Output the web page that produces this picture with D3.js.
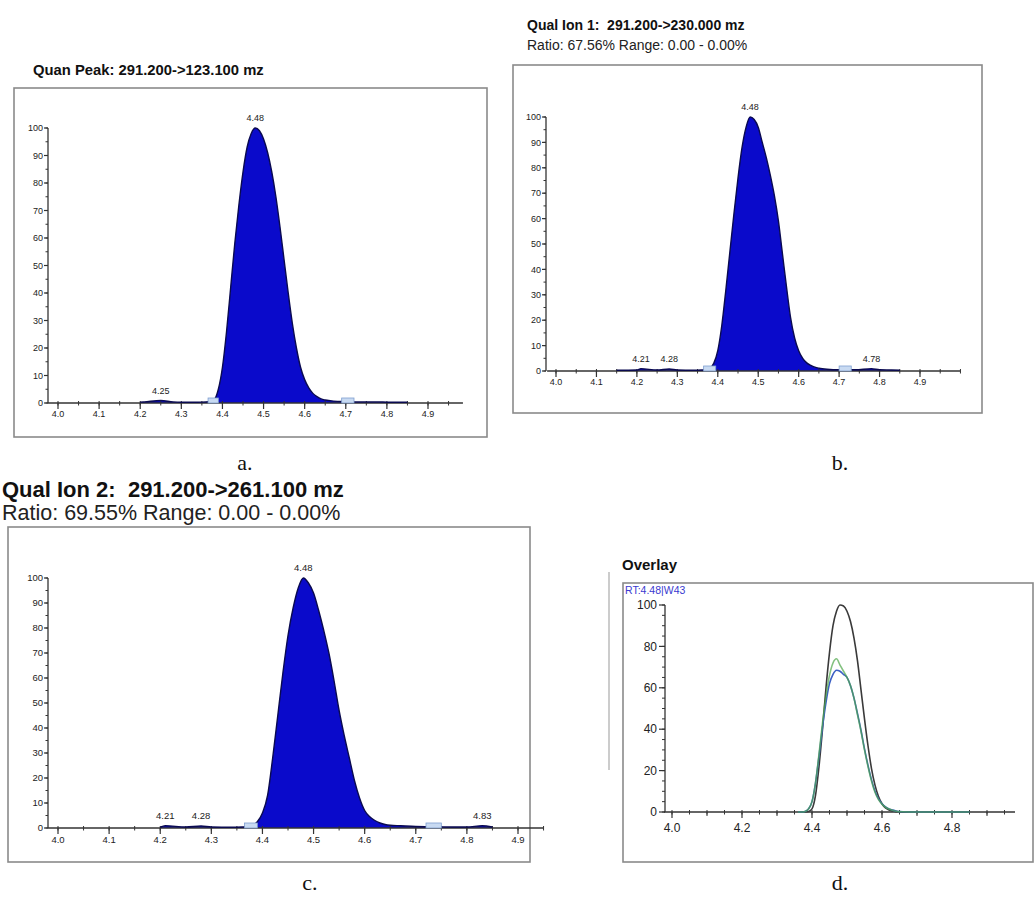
<!DOCTYPE html>
<html><head><meta charset="utf-8">
<script src="https://cdn.jsdelivr.net/npm/d3@7"></script>
<style>
body{margin:0;background:#fff}
svg{display:block}
text{font-family:"Liberation Sans",Arial,sans-serif;white-space:pre}
</style>
</head><body>
<svg id="chart" width="1034" height="912"></svg>
<script>
// ---------------- data ----------------
const rtGrid = [4.15,4.20,4.21,4.25,4.28,4.30,4.34,4.36,4.37,4.38,4.39,4.40,4.41,4.42,4.43,4.44,4.45,4.46,4.47,4.48,4.49,4.50,4.51,4.52,4.53,4.54,4.55,4.56,4.57,4.58,4.59,4.60,4.61,4.62,4.63,4.64,4.65,4.67,4.70,4.74,4.78,4.80,4.83,4.85];
const intensityA = [null,0.3,0.4,0.9,0.4,0.3,0.3,0.4,0.6,1.2,5,13,26,42,58,72,84,93,98,100,99,96,91,84,75,64,52,40,29,20,13,8.5,5.5,3.5,2.3,1.5,1.1,0.7,0.5,0.4,0.4,0.3,0.3,0.3];
const intensityB = [0.3,0.4,0.9,0.4,0.8,0.4,0.3,0.4,0.5,1,3,8,18,32,47,62,76,88,96,100,99,96,90,84,77,69,59,46,33,21,13,8,5,3.2,2.2,1.5,1.1,0.7,0.5,0.5,0.9,0.5,0.4,0.3];
const intensityC = [null,0.3,0.9,0.4,0.8,0.4,0.3,0.4,0.5,1,2.5,6,13,28,45,62,77,88,96,100,98,94,87,79,70,59,47,37,28,19,12,7,4.5,3,2,1.4,1.1,0.9,0.6,0.5,0.4,0.4,0.9,0.4];

const rtOverlay = [4.36,4.37,4.38,4.39,4.40,4.41,4.42,4.43,4.44,4.45,4.46,4.47,4.48,4.49,4.50,4.51,4.52,4.53,4.54,4.55,4.56,4.57,4.58,4.59,4.60,4.61,4.62,4.63,4.64,4.65,4.66,4.70,4.75,4.80,4.85];
const overlayBlack = [0,0,0,0.2,1.5,8,22,40,60,77,90,97,100,99.5,97,92,84,73,59,45,32,21,13,7.5,4,2,1,0.5,0.2,0.1,0,0,0,0,0];
const overlayBlue  = [0,0,0.3,1.5,5,14,27,41,53,62,66.5,68.5,68,66.5,65,61,55,47.5,39.5,30.5,22.5,15.5,10,6.3,4,2.5,1.5,0.9,0.5,0.2,0.1,0,0,0,0];
const overlayGreen = [0,0,0.3,1.5,5,14,28,43,56,66,72,74,71,68,65,61,55,47,39,30,22,15,9.5,6,3.8,2.3,1.4,0.8,0.4,0.2,0.1,0,0,0,0];

const xTicksABC = [4.0,4.1,4.2,4.3,4.4,4.5,4.6,4.7,4.8,4.9];
const xTicksD = [4.0,4.2,4.4,4.6,4.8];
const yTicksABC = [0,10,20,30,40,50,60,70,80,90,100];
const yTicksD = [0,20,40,60,80,100];

const peakLabelRtA = [4.48,4.25];
const peakLabelRtB = [4.48,4.21,4.28,4.78];
const peakLabelRtC = [4.48,4.21,4.28,4.83];

const markersA = [[4.365,4.39],[4.69,4.72]];
const markersB = [[4.365,4.395],[4.70,4.73]];
const markersC = [[4.365,4.39],[4.72,4.75]];

const titleA = "Quan Peak: 291.200->123.100 mz";
const titleB = "Qual Ion 1:  291.200->230.000 mz";
const ratioB = "Ratio: 67.56% Range: 0.00 - 0.00%";
const titleC = "Qual Ion 2:  291.200->261.100 mz";
const ratioC = "Ratio: 69.55% Range: 0.00 - 0.00%";
const titleD = "Overlay";
const rtLabelD = "RT:4.48|W43";
const panelLetters = ["a.","b.","c.","d."];

// ---------------- drawing ----------------
const svg = d3.select("#chart");
const fmt1 = d3.format(".1f");
const fmt2 = d3.format(".2f");

function drawBox(b){
  svg.append("rect").attr("x",b.x).attr("y",b.y).attr("width",b.w).attr("height",b.h)
    .attr("fill","#fff").attr("stroke","#8a8a8a").attr("stroke-width",1.6);
}

function drawYAxis(g, y, ax, ticks, minorStep, fs, majLen, minLen, gap){
  g.append("line").attr("x1",ax).attr("x2",ax).attr("y1",y(0)).attr("y2",y(100))
    .attr("stroke","#333").attr("stroke-width",1.3);
  const minors = d3.range(0,100.001,minorStep);
  g.selectAll(null).data(minors).join("line")
    .attr("x1",ax-minLen).attr("x2",ax).attr("y1",d=>y(d)).attr("y2",d=>y(d))
    .attr("stroke","#333").attr("stroke-width",1);
  g.selectAll(null).data(ticks).join("line")
    .attr("x1",ax-majLen).attr("x2",ax).attr("y1",d=>y(d)).attr("y2",d=>y(d))
    .attr("stroke","#333").attr("stroke-width",1.2);
  g.selectAll(null).data(ticks).join("text")
    .attr("x",ax-majLen-gap).attr("y",d=>y(d)).attr("dy","0.35em")
    .attr("text-anchor","end").attr("font-size",fs).attr("fill","#222").text(d=>d);
}

function drawXAxis(g, x, ay, ext, ticks, minorStep, fs, fmt, midTicks, lblOff){
  g.append("line").attr("x1",x(ext[0])).attr("x2",x(ext[1])).attr("y1",ay).attr("y2",ay)
    .attr("stroke","#333").attr("stroke-width",1.5);
  const minors = d3.range(4.0, ext[1]+1e-6, minorStep);
  g.selectAll(null).data(minors).join("line")
    .attr("x1",d=>x(d)).attr("x2",d=>x(d)).attr("y1",ay-2).attr("y2",ay+2.5)
    .attr("stroke","#333").attr("stroke-width",1);
  if (midTicks){
    g.selectAll(null).data(midTicks).join("line")
      .attr("x1",d=>x(d)).attr("x2",d=>x(d)).attr("y1",ay).attr("y2",ay+4)
      .attr("stroke","#333").attr("stroke-width",1);
  }
  g.selectAll(null).data(ticks).join("line")
    .attr("x1",d=>x(d)).attr("x2",d=>x(d)).attr("y1",ay).attr("y2",ay+6)
    .attr("stroke","#333").attr("stroke-width",1.2);
  g.selectAll(null).data(ticks).join("text")
    .attr("x",d=>x(d)).attr("y",ay+lblOff).attr("dy","0.8em")
    .attr("text-anchor","middle").attr("font-size",fs).attr("fill","#222").text(d=>fmt(d));
}

function chromPanel(o){
  drawBox(o.box);
  const g = svg.append("g");
  const x = d3.scaleLinear().domain([4.0,4.9]).range(o.xr);
  const y = d3.scaleLinear().domain([0,100]).range(o.yr);
  const pts = rtGrid.map((r,i)=>({r, v:o.data[i]})).filter(d=>d.v!==null);
  // filled peak
  g.append("path").datum(pts)
    .attr("d", d3.area().x(d=>x(d.r)).y0(y(0)).y1(d=>y(d.v)).curve(d3.curveMonotoneX))
    .attr("fill","#0a0acb").attr("stroke","none");
  drawXAxis(g, x, y(0), o.ext, xTicksABC, 0.05, o.tickFs, fmt1, null, 7);
  drawYAxis(g, y, o.axisX, yTicksABC, 5, o.tickFs, 4, 2.5, 1);
  g.append("path").datum(pts)
    .attr("d", d3.line().x(d=>x(d.r)).y(d=>y(d.v)).curve(d3.curveMonotoneX))
    .attr("fill","none").attr("stroke","#0a0a50").attr("stroke-width",1.4);
  // integration markers
  g.selectAll(null).data(o.markers).join("rect")
    .attr("x",d=>x(d[0])).attr("width",d=>x(d[1])-x(d[0]))
    .attr("y",y(0)-5).attr("height",5)
    .attr("fill","#c8daf2").attr("stroke","#7f9fd0").attr("stroke-width",0.8);
  // peak labels
  g.selectAll(null).data(o.labels).join("text")
    .attr("x",d=>x(d)).attr("y",d=>{
        const i = rtGrid.findIndex(r=>Math.abs(r-d)<1e-6);
        return y(o.data[i]) - 7;})
    .attr("text-anchor","middle").attr("font-size",o.tickFs).attr("fill","#222")
    .text(d=>fmt2(d));
}

// panel a
svg.append("text").attr("x",33).attr("y",75).attr("font-size",14.8).attr("font-weight","bold")
  .attr("fill","#111").text(titleA);
chromPanel({box:{x:14,y:88,w:473,h:349}, xr:[58,428], yr:[403,128], axisX:48, ext:[3.975,4.985],
  data:intensityA, markers:markersA, labels:peakLabelRtA, tickFs:9});

// panel b
svg.append("text").attr("x",527).attr("y",30).attr("font-size",14).attr("font-weight","bold")
  .attr("fill","#111").text(titleB);
svg.append("text").attr("x",527).attr("y",50).attr("font-size",14)
  .attr("fill","#222").text(ratioB);
chromPanel({box:{x:513,y:65,w:469,h:348}, xr:[556,920], yr:[371,117], axisX:546, ext:[3.978,5.0],
  data:intensityB, markers:markersB, labels:peakLabelRtB, tickFs:9});

// panel c
svg.append("text").attr("x",2).attr("y",497).attr("font-size",22).attr("font-weight","bold")
  .attr("fill","#111").text(titleC);
svg.append("text").attr("x",2).attr("y",520).attr("font-size",21.5)
  .attr("fill","#222").text(ratioC);
chromPanel({box:{x:8,y:527,w:522,h:335}, xr:[58,518], yr:[828,578], axisX:48, ext:[3.98,4.95],
  data:intensityC, markers:markersC, labels:peakLabelRtC, tickFs:9.5});

// panel d
svg.append("line").attr("x1",609).attr("x2",609).attr("y1",572).attr("y2",770)
  .attr("stroke","#999").attr("stroke-width",1);
svg.append("text").attr("x",622).attr("y",570).attr("font-size",15).attr("font-weight","bold")
  .attr("fill","#111").text(titleD);
drawBox({x:623,y:583,w:410,h:279});
(function(){
  const g = svg.append("g");
  const x = d3.scaleLinear().domain([4.0,4.8]).range([672,952]);
  const y = d3.scaleLinear().domain([0,100]).range([812,605]);
  g.append("text").attr("x",625).attr("y",594).attr("font-size",10.5).attr("fill","#3a3ad0").text(rtLabelD);
  drawXAxis(g, x, y(0), [3.977,4.98], xTicksD, 0.05, 12, fmt1, [4.1,4.3,4.5,4.7,4.9], 10);
  drawYAxis(g, y, 665, yTicksD, 5, 12, 6, 3, 2);
  const series = [
    {v:overlayBlack, c:"#3a3a3a", o:1},
    {v:overlayBlue, c:"#3b5fc4", o:1},
    {v:overlayGreen, c:"#4fa64a", o:0.7}
  ];
  const line = d3.line().x(d=>x(d.r)).y(d=>y(d.v)).curve(d3.curveMonotoneX);
  series.forEach(s=>{
    g.append("path").datum(rtOverlay.map((r,i)=>({r, v:s.v[i]})))
      .attr("d",line).attr("fill","none").attr("stroke",s.c).attr("stroke-opacity",s.o)
      .attr("stroke-width",1.6);
  });
})();

// panel letters
const letterPos = [[245,470],[840,470],[310,890],[840,890]];
svg.selectAll(null).data(panelLetters).join("text")
  .attr("x",(d,i)=>letterPos[i][0]).attr("y",(d,i)=>letterPos[i][1])
  .attr("text-anchor","middle").attr("font-size",22)
  .style("font-family","'Liberation Serif','Times New Roman',serif")
  .attr("fill","#111").text(d=>d);
</script>
</body></html>
